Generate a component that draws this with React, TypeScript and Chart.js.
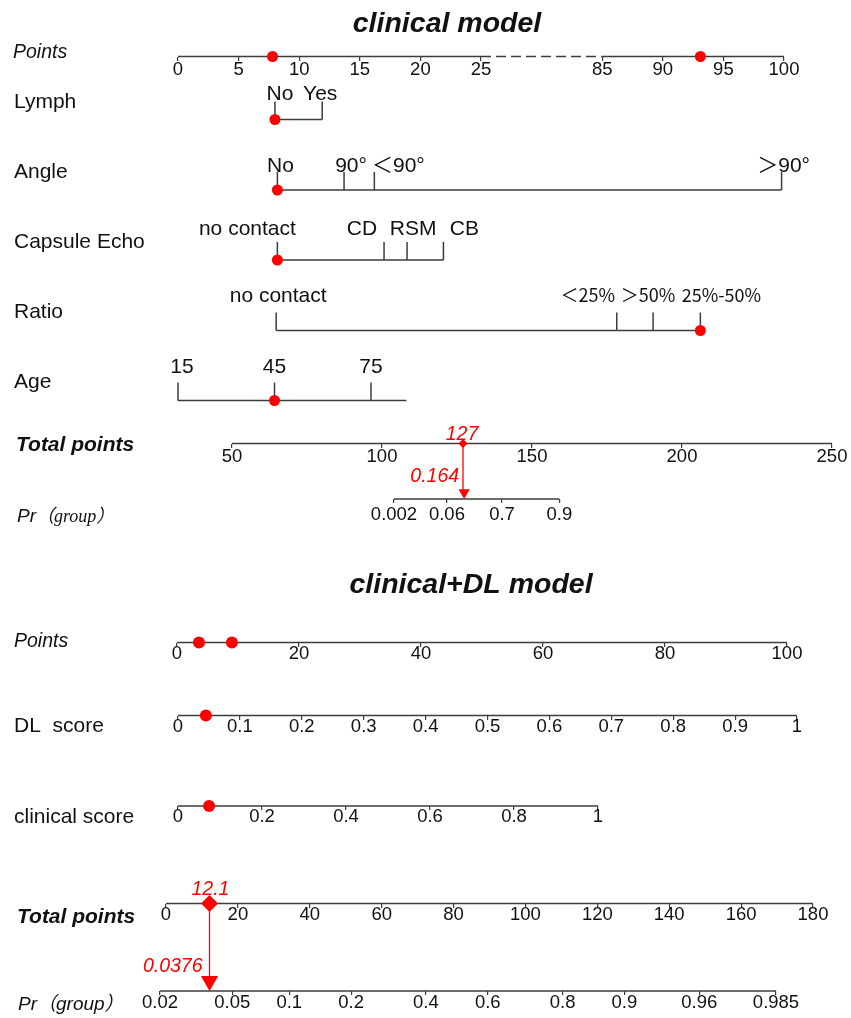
import React, { useEffect, useRef } from 'react';
import { Chart, registerables } from 'chart.js';

Chart.register(...registerables);

// ---------------- data ----------------
// clinical model
const pointsTopTicks = [0, 5, 10, 15, 20, 25, 85, 90, 95, 100];
const pointsTopMarks = [7.8, 93.1];

const lymphLevels = ['No', 'Yes'];
const lymphPoints = [8.0, 11.9];
const lymphSelected = 0;

const angleLevels = ['No', '90°', '＜90°', '＞90°'];
const anglePoints = [8.2, 13.7, 16.2, 99.8];
const angleSelected = 0;

const capsuleLevels = ['no contact', 'CD', 'RSM', 'CB'];
const capsulePoints = [8.2, 17.0, 18.9, 21.9];
const capsuleSelected = 0;

const ratioLevels = ['no contact', '＜25%', '＞50%', '25%-50%'];
const ratioPoints = [8.1, 86.2, 89.2, 93.1];
const ratioSelected = 3;

const ageTicks = [15, 45, 75];
const ageRange = [15, 86];
const ageValue = 45;

const total1Ticks = [50, 100, 150, 200, 250];
const total1Value = 127;

const pr1TickLabels = ['0.002', '0.06', '0.7', '0.9'];
const pr1TickValues = [0.002, 0.06, 0.7, 0.99];
const pr1Value = 0.164;

// clinical+DL model
const points2Ticks = [0, 20, 40, 60, 80, 100];
const points2Marks = [3.6, 9.0];

const dlTicks = [0, 0.1, 0.2, 0.3, 0.4, 0.5, 0.6, 0.7, 0.8, 0.9, 1];
const dlValue = 0.045;

const clinTicks = [0, 0.2, 0.4, 0.6, 0.8, 1];
const clinValue = 0.074;

const total2Ticks = [0, 20, 40, 60, 80, 100, 120, 140, 160, 180];
const total2Value = 12.1;

const pr2Ticks = [0.02, 0.05, 0.1, 0.2, 0.4, 0.6, 0.8, 0.9, 0.96, 0.985];
const pr2Value = 0.0376;

// ---------------- layout & style ----------------
const W = 851;
const H = 1018;
const SANS = "'Liberation Sans', Arial, 'Noto Sans CJK SC', sans-serif";
const CJK = "'Noto Sans CJK SC', 'Liberation Sans', sans-serif";
const SERIF = "'Liberation Serif', 'Noto Sans CJK SC', serif";
const AXIS = '#3c3c3c';
const TEXT = '#111111';
const RED = '#ff0000';
const TICK_UP = 18;

const logit = (p: number) => Math.log(p / (1 - p));
const BREAK_LO = 25;
const BREAK_HI = 85;
const BREAK_W = 10;
const toVisual = (p: number) =>
  p <= BREAK_LO
    ? p
    : p >= BREAK_HI
    ? p - (BREAK_HI - BREAK_LO - BREAK_W)
    : BREAK_LO + ((p - BREAK_LO) * BREAK_W) / (BREAK_HI - BREAK_LO);

// calibration of each scale: [value1, pixel1, value2, pixel2]
const CAL: Record<string, number[]> = {
  xP1: [0, 178, 50, 784],
  xAge: [15, 178, 75, 371],
  xT1: [50, 232, 250, 832],
  xPr1: [logit(0.002), 394, logit(0.7), 502],
  xP2: [0, 177, 100, 787],
  xDL: [0, 178, 1, 797],
  xCS: [0, 178, 1, 598],
  xT2: [0, 166, 180, 813],
  xPr2: [logit(0.02), 160, logit(0.985), 776],
};

const Y = {
  p1: 56.5,
  lymph: 119.5,
  angle: 190,
  capsule: 260,
  ratio: 330.5,
  age: 400.5,
  t1: 443.5,
  pr1: 499,
  p2: 642.5,
  dl: 715.5,
  cs: 806,
  t2: 903.5,
  pr2: 991,
};

function range(id: string) {
  const [v1, p1, v2, p2] = CAL[id];
  const b = (p2 - p1) / (v2 - v1);
  const a = p1 - b * v1;
  return { min: -a / b, max: (W - a) / b };
}

const zeroFit = (s: any) => {
  s.height = 0;
  s.paddingLeft = 0;
  s.paddingRight = 0;
  s.paddingTop = 0;
  s.paddingBottom = 0;
};

function numAxis(id: string, y: number, vals: number[], labels: string[], pad: number) {
  const r = range(id);
  return {
    type: 'linear',
    axis: 'x',
    display: true,
    position: { y },
    min: r.min,
    max: r.max,
    border: { display: false },
    grid: {
      display: true,
      drawOnChartArea: false,
      drawTicks: true,
      tickLength: 4,
      color: AXIS,
      tickColor: AXIS,
      lineWidth: 1.2,
    },
    ticks: {
      autoSkip: false,
      maxRotation: 0,
      minRotation: 0,
      padding: pad,
      color: TEXT,
      font: { family: SANS, size: 18.5, lineHeight: 1 },
      callback: (_v: any, i: number) => labels[i],
    },
    afterBuildTicks: (s: any) => {
      s.ticks = vals.map((v) => ({ value: v }));
    },
    afterFit: zeroFit,
  };
}

function hiddenAxis(id: string) {
  const r = range(id);
  return {
    type: 'linear',
    axis: 'x',
    display: false,
    position: { y: 0 },
    min: r.min,
    max: r.max,
    afterFit: zeroFit,
  };
}

// ---------------- build datasets and texts ----------------
const datasets: any[] = [];
const texts: any[] = [];

const seg = (xAxisID: string, x1: number, y1: number, x2: number, y2: number, extra: any = {}) =>
  datasets.push({
    xAxisID,
    yAxisID: 'y',
    data: [
      { x: x1, y: y1 },
      { x: x2, y: y2 },
    ],
    showLine: true,
    borderColor: AXIS,
    borderWidth: 1.5,
    pointRadius: 0,
    order: 3,
    ...extra,
  });

const dots = (xAxisID: string, xs: number[], y: number, extra: any = {}) =>
  datasets.push({
    xAxisID,
    yAxisID: 'y',
    data: xs.map((x) => ({ x, y })),
    showLine: false,
    pointRadius: 5.5,
    pointBackgroundColor: RED,
    pointBorderColor: RED,
    pointBorderWidth: 0,
    order: 1,
    ...extra,
  });

const label = (text: string, x: number, y: number, font: string, extra: any = {}) =>
  texts.push({ text, x, y, font, ...extra });

const F_ROW = `21px ${SANS}`;
const F_LEVEL = `21px ${SANS}`;
const F_TITLE = `bold italic 28.5px ${SANS}`;
const F_POINTS = `italic 19.5px ${SANS}`;
const F_TOTAL = `bold italic 21px ${SANS}`;
const F_RED = `italic 19.5px ${SANS}`;

// titles
label('clinical model', 447, 32, F_TITLE, { align: 'center' });
label('clinical+DL model', 471, 593, F_TITLE, { align: 'center' });

// ---- top Points axis (broken) ----
label('Points', 13, 58, F_POINTS);
seg('xP1', toVisual(pointsTopTicks[0]), Y.p1, toVisual(BREAK_LO), Y.p1);
seg('xP1', toVisual(BREAK_LO), Y.p1, toVisual(BREAK_HI), Y.p1, { borderDash: [10, 5] });
seg('xP1', toVisual(BREAK_HI), Y.p1, toVisual(pointsTopTicks[pointsTopTicks.length - 1]), Y.p1);
dots('xP1', pointsTopMarks.map(toVisual), Y.p1);

// ---- categorical rows ----
function catRow(
  name: string,
  nameY: number,
  levels: string[],
  pts: number[],
  sel: number,
  y: number,
  labelY: number,
  dx: number[],
  font: string
) {
  label(name, 14, nameY, F_ROW);
  const xs = pts.map(toVisual);
  seg('xP1', Math.min(...xs), y, Math.max(...xs), y);
  xs.forEach((x) => seg('xP1', x, y, x, y - TICK_UP));
  dots('xP1', [xs[sel]], y, { pointRadius: 5.5 });
  levels.forEach((t, i) =>
    texts.push({ text: t, scale: 'xP1', v: xs[i], dx: dx[i], y: labelY, font, align: 'center' })
  );
}

catRow('Lymph', 108, lymphLevels, lymphPoints, lymphSelected, Y.lymph, 100, [5, -2], F_LEVEL);
catRow('Angle', 178, angleLevels, anglePoints, angleSelected, Y.angle, 172, [3, 7, 24, 2], F_LEVEL);
catRow('Capsule Echo', 248, capsuleLevels, capsulePoints, capsuleSelected, Y.capsule, 235, [-30, -22, 6, 21], F_LEVEL);
catRow('Ratio', 318, ratioLevels, ratioPoints, ratioSelected, Y.ratio, 302, [2, -29, -5, 21], `18px ${CJK}`);
// the first Ratio label is latin text
texts[texts.length - 4].font = F_LEVEL;

// ---- Age ----
label('Age', 14, 388, F_ROW);
seg('xAge', ageRange[0], Y.age, ageRange[1], Y.age);
ageTicks.forEach((a, i) => {
  seg('xAge', a, Y.age, a, Y.age - TICK_UP);
  texts.push({ text: String(a), scale: 'xAge', v: a, dx: i === 0 ? 4 : 0, y: 373, font: F_LEVEL, align: 'center' });
});
dots('xAge', [ageValue], Y.age);

// ---- Total points (clinical) ----
label('Total points', 16, 451, F_TOTAL);
seg('xT1', total1Ticks[0], Y.t1, total1Ticks[total1Ticks.length - 1], Y.t1);
dots('xT1', [total1Value], Y.t1, { pointStyle: 'rectRot', pointRadius: 4.5 });
seg('xT1', total1Value, Y.t1, total1Value, Y.pr1 - 7, { borderColor: RED, borderWidth: 1.3, order: 2 });
texts.push({ text: String(total1Value), scale: 'xT1', v: total1Value, dx: -1, y: 440, font: F_RED, color: RED, align: 'center' });

// ---- Pr (clinical) ----
texts.push({
  x: 17,
  y: 522,
  parts: [
    { text: 'Pr', font: `italic 19px ${SANS}` },
    { text: '（group）', font: `italic 18px ${SERIF}` },
  ],
});
seg('xPr1', logit(pr1TickValues[0]), Y.pr1, logit(pr1TickValues[pr1TickValues.length - 1]), Y.pr1);
dots('xPr1', [logit(pr1Value)], Y.pr1 - 6.5, { pointStyle: 'triangle', pointRotation: 180, pointRadius: 6.5 });
texts.push({ text: String(pr1Value), scale: 'xPr1', v: logit(pr1Value), dx: -5, y: 482, font: F_RED, color: RED, align: 'right' });

// ---- Points (clinical+DL) ----
label('Points', 14, 647, F_POINTS);
seg('xP2', points2Ticks[0], Y.p2, points2Ticks[points2Ticks.length - 1], Y.p2);
dots('xP2', points2Marks, Y.p2, { pointRadius: 6 });

// ---- DL score ----
label('DL  score', 14, 732, F_ROW);
seg('xDL', dlTicks[0], Y.dl, dlTicks[dlTicks.length - 1], Y.dl);
dots('xDL', [dlValue], Y.dl, { pointRadius: 6 });

// ---- clinical score ----
label('clinical score', 14, 823, F_ROW);
seg('xCS', clinTicks[0], Y.cs, clinTicks[clinTicks.length - 1], Y.cs);
dots('xCS', [clinValue], Y.cs, { pointRadius: 6 });

// ---- Total points (clinical+DL) ----
label('Total points', 17, 923, F_TOTAL);
seg('xT2', total2Ticks[0], Y.t2, total2Ticks[total2Ticks.length - 1], Y.t2);
dots('xT2', [total2Value], Y.t2, { pointStyle: 'rectRot', pointRadius: 8.5 });
seg('xT2', total2Value, Y.t2, total2Value, Y.pr2 - 10, { borderColor: RED, borderWidth: 1.3, order: 2 });
texts.push({ text: String(total2Value), scale: 'xT2', v: total2Value, dx: 1, y: 895, font: F_RED, color: RED, align: 'center' });

// ---- Pr (clinical+DL) ----
label('Pr（group）', 18, 1010, `italic 19px ${SANS}`);
seg('xPr2', logit(pr2Ticks[0]), Y.pr2, logit(pr2Ticks[pr2Ticks.length - 1]), Y.pr2);
dots('xPr2', [logit(pr2Value)], Y.pr2 - 10, { pointStyle: 'triangle', pointRotation: 180, pointRadius: 10 });
texts.push({ text: String(pr2Value), scale: 'xPr2', v: logit(pr2Value), dx: -7, y: 972, font: F_RED, color: RED, align: 'right' });

// ---------------- scales ----------------
const scales: any = {
  y: { type: 'linear', axis: 'y', display: false, reverse: true, min: 0, max: H },
  xP1: numAxis('xP1', Y.p1, pointsTopTicks.map(toVisual), pointsTopTicks.map(String), 0.5),
  xAge: hiddenAxis('xAge'),
  xT1: numAxis('xT1', Y.t1, total1Ticks, total1Ticks.map(String), 0.5),
  xPr1: numAxis('xPr1', Y.pr1, pr1TickValues.map(logit), pr1TickLabels, 3),
  xP2: numAxis('xP2', Y.p2, points2Ticks, points2Ticks.map(String), -1.5),
  xDL: numAxis('xDL', Y.dl, dlTicks, dlTicks.map(String), -1.8),
  xCS: numAxis('xCS', Y.cs, clinTicks, clinTicks.map(String), -2.3),
  xT2: numAxis('xT2', Y.t2, total2Ticks, total2Ticks.map(String), -1.5),
  xPr2: numAxis('xPr2', Y.pr2, pr2Ticks.map(logit), pr2Ticks.map(String), -1),
};

const textPlugin = {
  id: 'nomoText',
  afterDatasetsDraw(chart: any) {
    const ctx = chart.ctx;
    ctx.save();
    ctx.textBaseline = 'alphabetic';
    for (const t of texts) {
      let x = t.x ?? 0;
      if (t.scale) x = chart.scales[t.scale].getPixelForValue(t.v) + (t.dx || 0);
      ctx.fillStyle = t.color || TEXT;
      if (t.parts) {
        ctx.textAlign = 'left';
        let cx = x;
        for (const p of t.parts) {
          ctx.font = p.font;
          ctx.fillText(p.text, cx, t.y);
          cx += ctx.measureText(p.text).width;
        }
        continue;
      }
      ctx.font = t.font;
      ctx.textAlign = t.align || 'left';
      ctx.fillText(t.text, x, t.y);
    }
    ctx.restore();
  },
};

export default function App() {
  const ref = useRef<HTMLCanvasElement>(null);
  useEffect(() => {
    document.body.style.margin = '0';
    const chart = new Chart(ref.current as HTMLCanvasElement, {
      type: 'scatter',
      data: { datasets },
      options: {
        animation: false,
        responsive: false,
        devicePixelRatio: 1,
        events: [],
        layout: { padding: 0, autoPadding: false },
        plugins: { legend: { display: false }, tooltip: { enabled: false }, title: { display: false } },
        scales,
      } as any,
      plugins: [textPlugin],
    });
    return () => chart.destroy();
  }, []);
  return (
    <div style={{ position: 'absolute', left: 0, top: 0, width: W, height: H, background: '#ffffff' }}>
      <canvas ref={ref} width={W} height={H} style={{ display: 'block', width: W, height: H }} />
    </div>
  );
}
